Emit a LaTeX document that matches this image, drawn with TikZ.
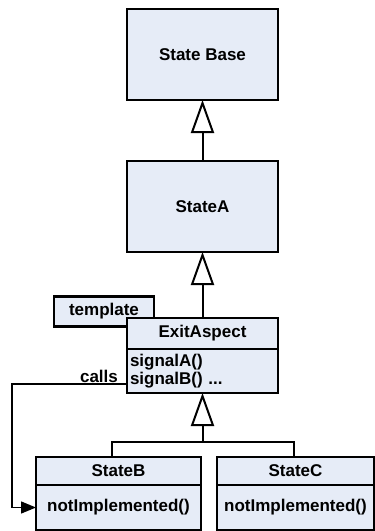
\documentclass[tikz,border=0pt]{standalone}
\usepackage{fontspec}
\setmainfont{Liberation Sans}
\usetikzlibrary{arrows.meta}
\definecolor{boxfill}{RGB}{230,236,247}
\begin{document}
\begin{tikzpicture}[x=1pt,y=-1pt,
  box/.style={draw=black,line width=2.2pt,fill=boxfill,inner sep=0pt,outer sep=0pt,
    font=\fontsize{17}{19}\selectfont\bfseries},
  inh/.style={draw=black,line width=2pt,-{Triangle[open,length=33pt,width=23pt,fill=white,line width=2pt]}},
  plain/.style={draw=black,line width=2pt},
  callarrow/.style={draw=black,line width=1.4pt,-{Triangle[length=15pt,width=12pt]}},
  lbl/.style={font=\fontsize{17}{19}\selectfont\bfseries,inner sep=0pt}]
\useasboundingbox (0,0) rectangle (375,531);
% boxes
\node[box,minimum width=151pt,minimum height=91pt] (base) at (202.5,54.5) {State Base};
\node[box,minimum width=151pt,minimum height=91pt] (stateA) at (202.5,206.5) {StateA};
\node[box,minimum width=100pt,minimum height=30pt] (template) at (104,311.5) {template};
\node[box,minimum width=151pt,minimum height=31pt] (exittitle) at (202.5,333.5) {ExitAspect};
\node[box,minimum width=151pt,minimum height=44pt,anchor=north west,align=left,text width=145pt,inner xsep=3pt] (exitbody) at (127,349) {signalA()\\[-1.5pt]signalB() ...};
\node[box,minimum width=165pt,minimum height=28pt] (Btitle) at (118.5,471) {StateB};
\node[box,minimum width=165pt,minimum height=45pt] (Bbody) at (118.5,507.5) {notImplemented()};
\node[box,minimum width=157pt,minimum height=28pt] (Ctitle) at (295.5,471) {StateC};
\node[box,minimum width=157pt,minimum height=45pt] (Cbody) at (295.5,507.5) {notImplemented()};
% inheritance
\draw[inh] (stateA.north) -- (base.south);
\draw[inh] (exittitle.north) -- (stateA.south);
\coordinate (bar) at (202.5,442);
\coordinate (barL) at (112,442);
\coordinate (barR) at (293.5,442);
\draw[plain] (Btitle.north -| barL) -- (barL) -- (barR) -- (Ctitle.north -| barR);
\draw[inh] (bar) -- (exitbody.south);
% calls
\coordinate (callstart) at (127,384);
\coordinate (callcorner) at (12,384);
\draw[callarrow] (callstart) -- (callcorner) |- (Bbody.west);
\node[lbl,anchor=base] (calls) at (99,382) {calls};
\end{tikzpicture}
\end{document}
